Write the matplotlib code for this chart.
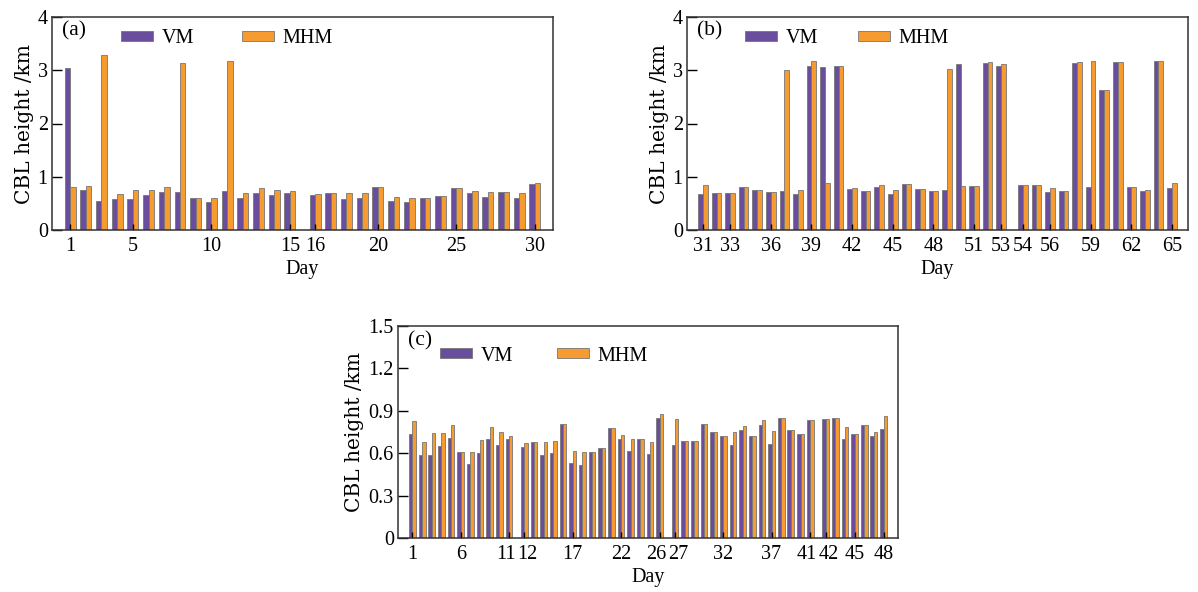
import numpy as np
import matplotlib
matplotlib.use("Agg")
import matplotlib.pyplot as plt
from matplotlib.transforms import ScaledTranslation

plt.rcParams['font.family'] = 'Liberation Serif'

# ---- data ----
days_a = list(range(1, 31))
vm_a = [3.05, 0.75, 0.55, 0.59, 0.59, 0.66, 0.71, 0.71, 0.61, 0.53,
        0.73, 0.60, 0.70, 0.66, 0.70, 0.66, 0.69, 0.59, 0.61, 0.81,
        0.54, 0.53, 0.61, 0.64, 0.78, 0.70, 0.62, 0.71, 0.60, 0.86]
mhm_a = [0.80, 0.83, 3.28, 0.68, 0.75, 0.75, 0.80, 3.13, 0.61, 0.61,
         3.18, 0.69, 0.79, 0.75, 0.73, 0.68, 0.69, 0.69, 0.70, 0.81,
         0.62, 0.61, 0.61, 0.64, 0.78, 0.73, 0.71, 0.71, 0.69, 0.89]
ticks_a = [1, 5, 10, 15, 16, 20, 25, 30]
gaps_a = [15]

days_b = list(range(31, 66))
vm_b = [0.67, 0.69, 0.69, 0.81, 0.75, 0.72, 0.73, 0.67, 3.08, 3.06,
        3.08, 0.77, 0.73, 0.81, 0.67, 0.86, 0.77, 0.74, 0.75, 3.11,
        0.83, 3.13, 3.08, 0.85, 0.85, 0.71, 0.74, 3.14, 0.81, 2.63,
        3.15, 0.80, 0.73, 3.17, 0.78]
mhm_b = [0.84, 0.69, 0.69, 0.81, 0.75, 0.72, 3.00, 0.75, 3.17, 0.875,
         3.08, 0.79, 0.73, 0.84, 0.76, 0.86, 0.77, 0.74, 3.02, 0.83,
         0.83, 3.15, 3.11, 0.85, 0.85, 0.79, 0.74, 3.16, 3.17, 2.63,
         3.15, 0.80, 0.75, 3.17, 0.875]
ticks_b = [31, 33, 36, 39, 42, 45, 48, 51, 53, 54, 56, 59, 62, 65]
gaps_b = [53]

days_c = list(range(1, 49))
vm_c = [0.737, 0.59, 0.59, 0.653, 0.71, 0.607, 0.523, 0.598, 0.70, 0.66,
        0.70, 0.644, 0.677, 0.586, 0.602, 0.807, 0.528, 0.52, 0.605, 0.637,
        0.777, 0.70, 0.614, 0.70, 0.593, 0.849, 0.66, 0.684, 0.684, 0.807,
        0.747, 0.721, 0.656, 0.763, 0.723, 0.802, 0.667, 0.849, 0.767, 0.737,
        0.833, 0.844, 0.849, 0.70, 0.737, 0.80, 0.721, 0.774]
mhm_c = [0.83, 0.68, 0.745, 0.745, 0.80, 0.607, 0.61, 0.69, 0.785, 0.747,
         0.723, 0.672, 0.677, 0.677, 0.688, 0.807, 0.616, 0.609, 0.605, 0.637,
         0.777, 0.726, 0.70, 0.70, 0.681, 0.877, 0.84, 0.684, 0.684, 0.807,
         0.747, 0.721, 0.747, 0.79, 0.723, 0.833, 0.76, 0.849, 0.767, 0.737,
         0.833, 0.844, 0.849, 0.788, 0.737, 0.80, 0.749, 0.863]
ticks_c = [1, 6, 11, 12, 17, 22, 26, 27, 32, 37, 41, 42, 45, 48]
gaps_c = [11, 26, 41]

VM_COLOR = '#6a4d9c'
MHM_COLOR = '#f59b30'
EDGE = '#777777'
FS = 14.5


def positions(days, gaps, extra=0.6):
    # days after a gap day are pushed right a little
    pos = {}
    shift = 0.0
    for d in days:
        pos[d] = d + shift
        if d in gaps:
            shift += extra
    return pos


def panel(rect, days, vm, mhm, ticks, gaps, ylim, yticks, ylabels,
          tag, margin, tag_xy, leg_anchor, colsp, nudge=0.0):
    ax = fig.add_axes(rect)
    pos = positions(days, gaps)
    x = np.array([pos[d] for d in days])
    w = 0.35
    ax.bar(x - w / 2, vm, w, color=VM_COLOR, edgecolor=EDGE, linewidth=0.6, label='VM')
    ax.bar(x + w / 2, mhm, w, color=MHM_COLOR, edgecolor=EDGE, linewidth=0.6, label='MHM')
    ax.set_xlim(x[0] - margin, x[-1] + margin)
    ax.set_ylim(*ylim)
    ax.set_yticks(yticks)
    ax.set_yticklabels(ylabels)
    ax.set_xticks([pos[t] for t in ticks])
    labels = ax.set_xticklabels([str(t) for t in ticks])
    ax.tick_params(axis='x', direction='in', length=4, width=1, labelsize=FS, pad=5)
    ax.tick_params(axis='y', direction='in', length=7, width=1, labelsize=FS, pad=3)
    # labels on both sides of a gap sit very close: push them apart a bit
    if nudge:
        for t, lab in zip(ticks, labels):
            if t in gaps:
                dx = -nudge
            elif t - 1 in gaps:
                dx = nudge
            else:
                continue
            lab.set_transform(lab.get_transform() + ScaledTranslation(dx / 72, 0, fig.dpi_scale_trans))
    for s in ax.spines.values():
        s.set_color('#333333')
        s.set_linewidth(1.1)
    ax.set_xlabel('Day', fontsize=FS, labelpad=3)
    ax.set_ylabel('CBL height /km', fontsize=14.5, family='DejaVu Serif', labelpad=3)
    ax.text(tag_xy[0], tag_xy[1], tag, transform=ax.transAxes, fontsize=FS + 1,
            ha='left', va='center')
    ax.legend(loc='center left', bbox_to_anchor=leg_anchor, ncol=2, frameon=False,
              fontsize=FS, handlelength=1.6, handleheight=0.4, handletextpad=0.4,
              columnspacing=colsp, borderaxespad=0)
    return ax


fig = plt.figure(figsize=(11.98, 5.92), dpi=100)

panel([52 / 1198, 1 - 230 / 592, 501 / 1198, 213 / 592], days_a, vm_a, mhm_a,
      ticks_a, gaps_a, (0, 4), [0, 1, 2, 3, 4], ['0', '1', '2', '3', '4'],
      '(a)', 1.15, (0.02, 0.935), (0.122, 0.90), 2.4)
panel([687 / 1198, 1 - 230 / 592, 501 / 1198, 213 / 592], days_b, vm_b, mhm_b,
      ticks_b, gaps_b, (0, 4), [0, 1, 2, 3, 4], ['0', '1', '2', '3', '4'],
      '(b)', 1.18, (0.02, 0.935), (0.10, 0.90), 2.0)
panel([398 / 1198, 1 - 538 / 592, 500 / 1198, 212 / 592], days_c, vm_c, mhm_c,
      ticks_c, gaps_c, (0, 1.5), [0, 0.3, 0.6, 0.9, 1.2, 1.5],
      ['0', '0.3', '0.6', '0.9', '1.2', '1.5'],
      '(c)', 1.5, (0.02, 0.93), (0.068, 0.858), 2.2, nudge=2.2)

fig.savefig('out.png', dpi=100)
